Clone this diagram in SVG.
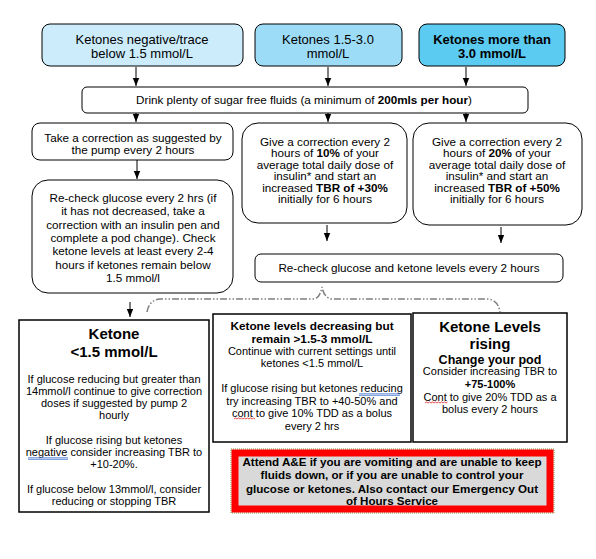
<svg xmlns="http://www.w3.org/2000/svg" width="596" height="559" viewBox="0 0 596 559">
<defs>
<marker id="ah" viewBox="0 0 8 8" refX="8" refY="4" markerWidth="8" markerHeight="8" markerUnits="userSpaceOnUse" orient="auto">
<path d="M0,0.8 L8,4 L0,7.2 Z" fill="#000"/>
</marker>
<style>
text{font-family:"Liberation Sans",Arial,sans-serif;fill:#000;text-anchor:middle}
.t13{font-size:13px}
.t12{font-size:11.7px}
.t11{font-size:11px}
.b{font-weight:bold}
.rb{stroke:#000;stroke-width:1}
.sq{fill:#fff;stroke:#000;stroke-width:1.5}
.ar{stroke:#000;stroke-width:1;fill:none;marker-end:url(#ah)}
.sp{stroke:#3a6fd0;stroke-width:0.8;fill:none}
.wv{stroke:#e02020;stroke-width:0.8;fill:none}
.ae{font-size:11.6px;font-weight:bold}
</style>
</defs>
<rect width="596" height="559" fill="#fff"/>

<g id="connectors">
<line class="ar" x1="136" y1="67" x2="136" y2="86"/>
<line class="ar" x1="328" y1="67" x2="328" y2="86"/>
<line class="ar" x1="466" y1="67" x2="466" y2="86"/>
<line class="ar" x1="136" y1="113" x2="136" y2="122"/>
<line class="ar" x1="328" y1="113" x2="328" y2="122"/>
<line class="ar" x1="466" y1="113" x2="466" y2="122"/>
<line class="ar" x1="137" y1="160" x2="137" y2="179"/>
<line class="ar" x1="327" y1="225" x2="327" y2="241"/>
<line class="ar" x1="501" y1="227" x2="501" y2="243"/>
<line class="ar" x1="130" y1="302" x2="130" y2="317"/>
<path d="M147,312 Q149,300 160,299 L314,299 Q320,298 322,287 Q324,298 332,299 L488,299 Q498,300 500,312" fill="none" stroke="#7f7f7f" stroke-width="1.5" stroke-dasharray="7,2,1.5,2,1.5,2"/>
</g>

<g id="n_neg">
<rect class="rb" x="42" y="24" width="201" height="42" rx="8" fill="#ccecfb"/>
<text class="t13" x="142" y="44">Ketones negative/trace</text>
<text class="t13" x="142" y="58">below 1.5 mmol/L</text>
</g>
<g id="n_mid">
<rect class="rb" x="255" y="24" width="147" height="42" rx="8" fill="#9cdcf6"/>
<text class="t13" x="328" y="44">Ketones 1.5-3.0</text>
<text class="t13" x="328" y="58">mmol/L</text>
</g>
<g id="n_high">
<rect class="rb" x="419" y="24" width="146" height="42" rx="8" fill="#5ccbf1"/>
<text class="t13 b" x="492" y="44">Ketones more than</text>
<text class="t13 b" x="492" y="58">3.0 mmol/L</text>
</g>

<g id="n_fluids">
<rect class="rb" x="82" y="87" width="446" height="26" rx="5" fill="#fff"/>
<text class="t12" x="304" y="104">Drink plenty of sugar free fluids (a minimum of <tspan class="b">200mls per hour</tspan>)</text>
</g>

<g id="n_take">
<rect class="rb" x="32" y="123" width="201" height="37" rx="8" fill="#fff"/>
<text class="t12" x="133" y="142">Take a correction as suggested by</text>
<text class="t12" x="133" y="153.5">the pump every 2 hours</text>
</g>

<g id="n_recheck1">
<rect class="rb" x="32" y="180" width="201" height="113" rx="16" fill="#fff"/>
<text class="t12" x="133" y="202">Re-check glucose every 2 hrs (if</text>
<text class="t12" x="133" y="215.3">it has not decreased, take a</text>
<text class="t12" x="133" y="228.6">correction with an insulin pen and</text>
<text class="t12" x="133" y="241.9">complete a pod change). Check</text>
<text class="t12" x="133" y="255.2">ketone levels at least every 2-4</text>
<text class="t12" x="133" y="268.5">hours if ketones remain below</text>
<text class="t12" x="133" y="282">1.5 mmol/l</text>
</g>

<g id="n_10">
<rect class="rb" x="242" y="123" width="165" height="100" rx="16" fill="#fff"/>
<text class="t12" x="325" y="145.7">Give a correction every 2</text>
<text class="t12" x="325" y="157.2">hours of <tspan class="b">10%</tspan> of your</text>
<text class="t12" x="325" y="168.7">average total daily dose of</text>
<text class="t12" x="325" y="180.2">insulin* and start an</text>
<text class="t12" x="325" y="191.7">increased <tspan class="b">TBR of +30%</tspan></text>
<text class="t12" x="325" y="203.2">initially for 6 hours</text>
</g>

<g id="n_20">
<rect class="rb" x="413" y="123" width="169" height="102" rx="16" fill="#fff"/>
<text class="t12" x="497" y="145.7">Give a correction every 2</text>
<text class="t12" x="497" y="157.2">hours of <tspan class="b">20%</tspan> of your</text>
<text class="t12" x="497" y="168.7">average total daily dose of</text>
<text class="t12" x="497" y="180.2">insulin* and start an</text>
<text class="t12" x="497" y="191.7">increased <tspan class="b">TBR of +50%</tspan></text>
<text class="t12" x="497" y="203.2">initially for 6 hours</text>
</g>

<g id="n_recheck2">
<rect class="rb" x="255" y="254" width="308" height="28" rx="6" fill="#fff"/>
<text class="t12" x="409" y="272">Re-check glucose and ketone levels every 2 hours</text>
</g>

<g id="n_low">
<rect class="sq" x="19" y="320" width="190" height="192"/>
<text class="b" style="font-size:15px" x="114" y="338.5">Ketone</text>
<text class="b" style="font-size:15px" x="114" y="356.5">&lt;1.5 mmol/L</text>
<text class="t11" x="114" y="383">If glucose reducing but greater than</text>
<text class="t11" x="114" y="395">14mmol/l continue to give correction</text>
<text class="t11" x="114" y="407">doses if suggested by pump 2</text>
<text class="t11" x="114" y="419">hourly</text>
<text class="t11" x="114" y="444">If glucose rising but ketones</text>
<text class="t11" x="114" y="456">negative consider increasing TBR to</text>
<text class="t11" x="114" y="468">+10-20%.</text>
<text class="t11" x="114" y="493">If glucose below 13mmol/l, consider</text>
<text class="t11" x="114" y="505">reducing or stopping TBR</text>
<path class="sp" d="M28,457.8 H68 M28,459.3 H68"/>
</g>

<g id="n_decr">
<rect class="sq" x="213" y="314" width="198" height="128"/>
<text class="b" style="font-size:11.8px" x="312" y="330">Ketone levels decreasing but</text>
<text class="b" style="font-size:11.8px" x="312" y="343">remain &gt;1.5-3 mmol/L</text>
<text class="t11" x="312" y="355">Continue with current settings until</text>
<text class="t11" x="312" y="367">ketones &lt;1.5 mmol/L</text>
<text class="t11" x="312" y="392">If glucose rising but ketones reducing</text>
<text class="t11" x="312" y="404.5">try increasing TBR to +40-50% and</text>
<text class="t11" x="312" y="417">cont to give 10% TDD as a bolus</text>
<text class="t11" x="312" y="429.5">every 2 hrs</text>
<path class="sp" d="M359,393.8 H400 M359,395.3 H400"/>
<path class="wv" d="M234,419 l1.5,-1 l1.5,1 l1.5,-1 l1.5,1 l1.5,-1 l1.5,1 l1.5,-1 l1.5,1 l1.5,-1 l1.5,1 l1.5,-1 l1.5,1 l1.5,-1 l1.5,1"/>
</g>

<g id="n_rising">
<rect class="sq" x="413" y="313" width="154" height="129"/>
<text class="b" style="font-size:15px" x="490" y="331.5">Ketone Levels</text>
<text class="b" style="font-size:15px" x="490" y="348.5">rising</text>
<text class="b" style="font-size:12.5px" x="490" y="363.5">Change your pod</text>
<text class="t11" x="490" y="375">Consider increasing TBR to</text>
<text class="t11 b" x="490" y="388">+75-100%</text>
<text class="t11" x="490" y="401">Cont to give 20% TDD as a</text>
<text class="t11" x="490" y="413">bolus every 2 hours</text>
<path class="wv" d="M425,403 l1.5,-1 l1.5,1 l1.5,-1 l1.5,1 l1.5,-1 l1.5,1 l1.5,-1 l1.5,1 l1.5,-1 l1.5,1 l1.5,-1 l1.5,1 l1.5,-1 l1.5,1 l1.5,-1"/>
</g>

<g id="n_ae">
<rect x="231" y="449" width="323" height="64" fill="none" stroke="#6b9a3c" stroke-width="1" stroke-dasharray="1,1"/>
<rect x="235" y="453" width="315" height="56" fill="#d9d9d9" stroke="#ff0000" stroke-width="7"/>
<text class="ae" x="392" y="466">Attend A&amp;E if you are vomiting and are unable to keep</text>
<text class="ae" x="392" y="479">fluids down, or if you are unable to control your</text>
<text class="ae" x="392" y="493">glucose or ketones. Also contact our Emergency Out</text>
<text class="ae" x="392" y="505">of Hours Service</text>
</g>
</svg>
